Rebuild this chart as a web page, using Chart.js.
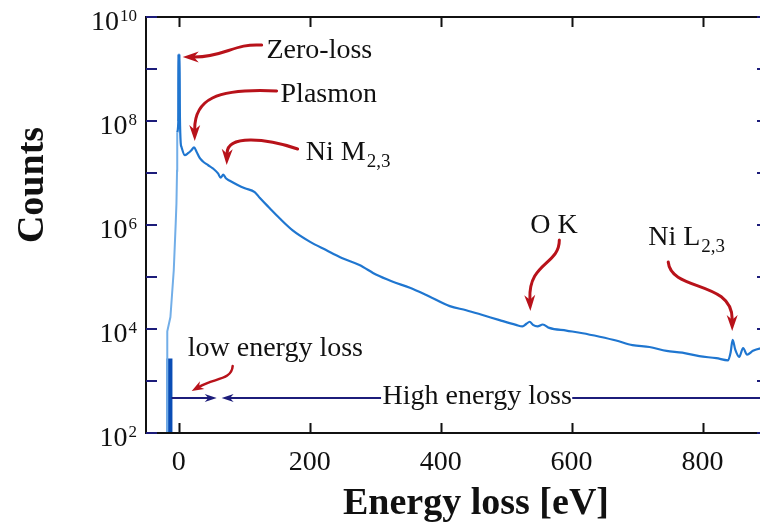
<!DOCTYPE html>
<html><head><meta charset="utf-8">
<style>html,body{margin:0;padding:0;background:#fff;overflow:hidden;width:760px;height:529px}canvas{display:block}#wrap{width:760px;height:529px;overflow:hidden}</style>
<script src="https://cdn.jsdelivr.net/npm/chart.js@4.4.1/dist/chart.umd.min.js"></script>
</head><body>
<div id="wrap"><canvas id="c" width="772" height="529"></canvas></div>
<script>
// ---------- data ----------
const riseEnergy   = [-17.5, -17.5, -12.7, -7.6, -4.6, -3.5, -2.6, -2.3];
const riseCounts   = [1, 9000, 17000, 1.35e5, 1.1e6, 2.6e6, 1.1e7, 6.0e7];
const pillarEnergy = [-14.2, -14.2];
const pillarCounts = [1, 2700];
const spikeEnergy  = [0.3, 0.3];
const spikeCounts  = [1.0e8, 1.9e9];
const spectrumEnergy = [-2.3, -0.4, 0, 0.8, 1.8, 3.0, 4.1, 9.2, 14.2, 19.4, 23.4, 27, 32, 37, 45, 52, 60, 64, 68, 72, 78, 90, 101, 116, 124, 139, 154, 174, 200, 225, 250, 276, 302, 327, 353, 378, 414, 439, 464, 490, 515, 525, 531, 536, 541, 548, 556, 566, 592, 617, 643, 668, 693, 719, 745, 769, 795, 821, 839, 843, 846, 850, 856, 862, 868, 877, 887, 900];
const spectrumCounts = [6.0e7, 1.2e8, 1.9e9, 1.9e9, 1.2e8, 3.8e7, 3.2e7, 2.2e7, 2.4e7, 2.75e7, 3.1e7, 2.6e7, 1.95e7, 1.66e7, 1.41e7, 1.23e7, 9.8e6, 8.1e6, 9.3e6, 7.9e6, 7.1e6, 5.9e6, 5.1e6, 4.3e6, 3.3e6, 2.1e6, 1.35e6, 7.9e5, 4.8e5, 3.3e5, 2.3e5, 1.7e5, 1.1e5, 8.1e4, 6.2e4, 4.5e4, 2.75e4, 2.3e4, 1.86e4, 1.48e4, 1.2e4, 1.12e4, 1.26e4, 1.38e4, 1.2e4, 1.12e4, 1.22e4, 1.05e4, 9.3e3, 8.3e3, 7.1e3, 6.0e3, 4.9e3, 4.5e3, 3.8e3, 3.5e3, 3.0e3, 2.75e3, 2.5e3, 3.6e3, 6.2e3, 4.0e3, 2.9e3, 4.3e3, 3.2e3, 3.8e3, 4.2e3, 4.3e3];
const xTickValues = [0, 200, 400, 600, 800];
const xTickLabels = ['0', '200', '400', '600', '800'];
const yMajorExponents = [2, 4, 6, 8, 10];
const yMinorExponents = [3, 5, 7, 9];
const xMin = -50, xMax = 900, yMin = 1e2, yMax = 1e10;
// energy-range arrows (eV) at a fixed count level
const rangeLevel = 470;
const lowRange = [-11, 58];
const highRange = [65.5, 309];
const highTail = [601, 900];
// annotation labels: [text, subscript, eV, log10(counts)]
const labels = [
  ['Zero-loss', '', 134, 9.21],
  ['Plasmon', '', 155.5, 8.365],
  ['Ni M', '2,3', 194, 7.25],
  ['O K', '', 537, 5.846],
  ['Ni L', '2,3', 717, 5.615],
  ['low energy loss', '', 13.7, 3.481],
  ['High energy loss', '', 311.3, 2.558]
];
// red arrows: bezier [start, ctrl1, ctrl2, tip] in [eV, log10(counts)]
const redArrows = [
  [[126.6, 9.46], [85.4, 9.50], [70.2, 9.231], [6.1, 9.231]],
  [[149.5, 8.577], [54.9, 8.635], [24.4, 8.404], [24.4, 7.615]],
  [[181.6, 7.462], [131.2, 7.673], [74.8, 7.731], [73.2, 7.154]],
  [[581.3, 5.712], [581.3, 5.231], [534, 5.288], [537.1, 4.346]],
  [[747.6, 5.288], [752.2, 4.712], [845.3, 4.942], [845.3, 3.962]],
  [[82.4, 3.288], [80.9, 3.019], [54.9, 3.058], [19.8, 2.808]]
];

const pts = (xs, ys) => xs.map((x, i) => ({x: x, y: ys[i]}));
const SERIF = '"Liberation Serif", "DejaVu Serif", serif';
const NAVY = '#1c1c7a';
const RED = '#b8121a';

function drawHead(ctx, tx, ty, dx, dy, len, hw) {
  const nx = -dy, ny = dx;
  ctx.beginPath();
  ctx.moveTo(tx, ty);
  ctx.lineTo(tx - dx * len + nx * hw, ty - dy * len + ny * hw);
  ctx.lineTo(tx - dx * len * 0.7, ty - dy * len * 0.7);
  ctx.lineTo(tx - dx * len - nx * hw, ty - dy * len - ny * hw);
  ctx.closePath();
  ctx.fill();
}

const decor = {
  id: 'decor',
  afterDatasetsDraw(chart) {
    const ctx = chart.ctx, a = chart.chartArea;
    const sx = chart.scales.x, sy = chart.scales.y;
    const X = v => sx.getPixelForValue(v);
    const Y = lg => sy.getPixelForValue(Math.pow(10, lg));
    ctx.save();
    // frame
    ctx.strokeStyle = '#111'; ctx.lineWidth = 2;
    ctx.strokeRect(a.left, a.top, a.right - a.left, a.bottom - a.top);
    // x ticks (inward, bottom and top)
    xTickValues.forEach(v => {
      const px = Math.round(X(v)) + 0.5;
      ctx.beginPath(); ctx.moveTo(px, a.bottom); ctx.lineTo(px, a.bottom - 10);
      ctx.moveTo(px, a.top); ctx.lineTo(px, a.top + 10); ctx.stroke();
    });
    // y ticks
    ctx.strokeStyle = NAVY;
    yMajorExponents.concat(yMinorExponents).forEach(e => {
      const py = Math.round(Y(e));
      ctx.beginPath(); ctx.moveTo(a.left, py); ctx.lineTo(a.left + 11, py);
      ctx.moveTo(a.right, py); ctx.lineTo(a.right - 11, py); ctx.stroke();
    });
    // x tick labels
    ctx.fillStyle = '#111';
    ctx.font = '28px ' + SERIF; ctx.textAlign = 'center'; ctx.textBaseline = 'alphabetic';
    xTickValues.forEach((v, i) => ctx.fillText(xTickLabels[i], X(v), 470));
    // y tick labels 10^e
    yMajorExponents.forEach(e => {
      const py = Y(e);
      ctx.font = '17px ' + SERIF; ctx.textAlign = 'right';
      const ew = ctx.measureText(String(e)).width;
      ctx.fillText(String(e), 137, py + 3.5);
      ctx.font = '28px ' + SERIF;
      ctx.fillText('10', 137 - ew - 1, py + 13);
    });
    // axis titles
    ctx.font = 'bold 38px ' + SERIF; ctx.textAlign = 'center';
    ctx.fillText('Energy loss [eV]', 476, 514);
    ctx.save(); ctx.translate(43, 185); ctx.rotate(-Math.PI / 2);
    ctx.fillText('Counts', 0, 0); ctx.restore();
    // energy range arrows
    ctx.strokeStyle = NAVY; ctx.fillStyle = NAVY; ctx.lineWidth = 2;
    const ly = Y(Math.log10(rangeLevel));
    ctx.beginPath();
    ctx.moveTo(X(lowRange[0]), ly); ctx.lineTo(X(lowRange[1]) - 8, ly);
    ctx.moveTo(X(highRange[0]) + 8, ly); ctx.lineTo(X(highRange[1]), ly);
    ctx.moveTo(X(highTail[0]), ly); ctx.lineTo(X(highTail[1]), ly);
    ctx.stroke();
    drawHead(ctx, X(lowRange[1]), ly, 1, 0, 12, 4);
    drawHead(ctx, X(highRange[0]), ly, -1, 0, 12, 4);
    // red arrows
    ctx.strokeStyle = RED; ctx.fillStyle = RED; ctx.lineCap = 'round';
    redArrows.forEach((arr, k) => {
      const p = arr.map(q => ({x: X(q[0]), y: Y(q[1])}));
      const small = k === 5;
      const head = small ? 12 : 16, hw = small ? 4.5 : 5.5;
      ctx.lineWidth = small ? 2.5 : 3;
      let dx = p[3].x - p[2].x, dy = p[3].y - p[2].y;
      const L = Math.hypot(dx, dy); dx /= L; dy /= L;
      const bx = p[3].x - dx * head * 0.75, by = p[3].y - dy * head * 0.75;
      ctx.beginPath(); ctx.moveTo(p[0].x, p[0].y);
      ctx.bezierCurveTo(p[1].x, p[1].y, p[2].x, p[2].y, bx, by); ctx.stroke();
      drawHead(ctx, p[3].x, p[3].y, dx, dy, head, hw);
    });
    // labels
    ctx.fillStyle = '#111'; ctx.textAlign = 'left'; ctx.textBaseline = 'alphabetic';
    labels.forEach(l => {
      const px = X(l[2]), py = Y(l[3]);
      ctx.font = '28px ' + SERIF;
      ctx.fillText(l[0], px, py);
      if (l[1]) {
        const w = ctx.measureText(l[0]).width;
        ctx.font = '19px ' + SERIF;
        ctx.fillText(l[1], px + w + 1, py + 7);
      }
    });
    ctx.restore();
  }
};

new Chart(document.getElementById('c'), {
  type: 'line',
  data: {
    datasets: [
      {data: pts(riseEnergy, riseCounts), borderColor: '#72aee8', borderWidth: 2, pointRadius: 0, tension: 0},
      {data: pts(pillarEnergy, pillarCounts), borderColor: '#0a4db5', borderWidth: 6, pointRadius: 0, tension: 0},
      {data: pts(spectrumEnergy, spectrumCounts), borderColor: '#1f76d0', borderWidth: 2.2, pointRadius: 0, cubicInterpolationMode: 'monotone'},
      {data: pts(spikeEnergy, spikeCounts), borderColor: '#1262c4', borderWidth: 3, pointRadius: 0, tension: 0}
    ]
  },
  options: {
    responsive: false, animation: false, devicePixelRatio: 1,
    layout: {padding: {top: 17, left: 0, right: 4, bottom: 0}},
    plugins: {legend: {display: false}, tooltip: {enabled: false}},
    scales: {
      x: {type: 'linear', min: xMin, max: xMax, grid: {display: false}, border: {display: false},
          ticks: {display: false}, afterFit: s => { s.height = 96; }},
      y: {type: 'logarithmic', min: yMin, max: yMax, grid: {display: false}, border: {display: false},
          ticks: {display: false}, afterFit: s => { s.width = 146; }}
    }
  },
  plugins: [decor]
});
</script>
</body></html>
